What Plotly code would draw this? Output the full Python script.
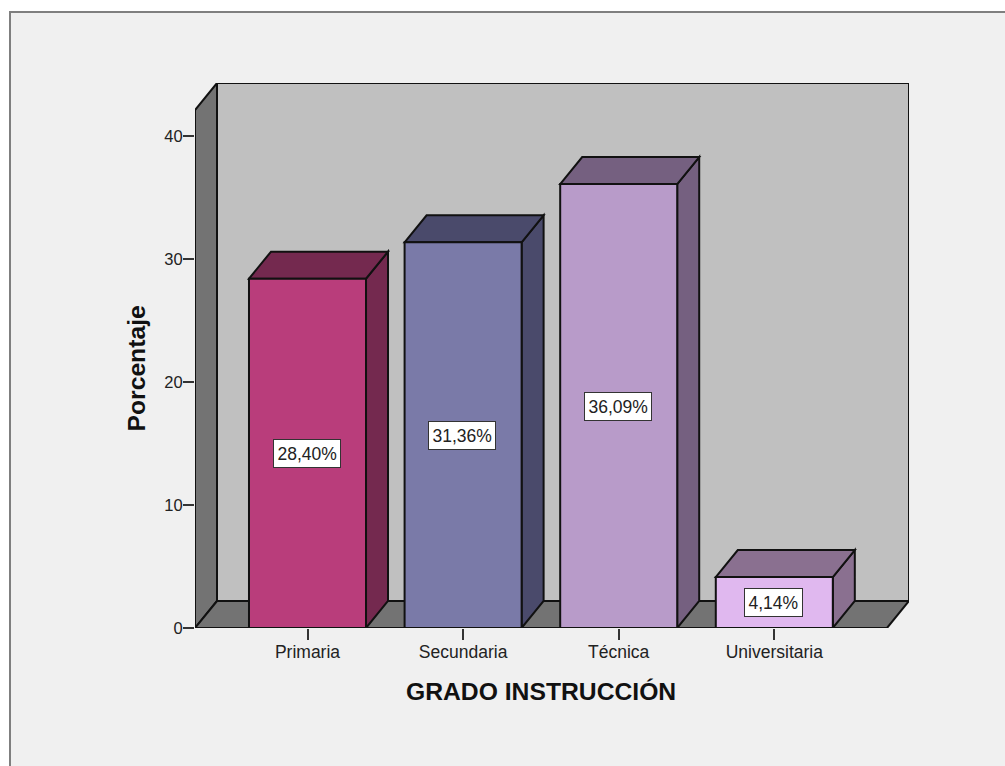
import plotly.graph_objects as go

categories = ["Primaria", "Secundaria", "Técnica", "Universitaria"]
values = [28.40, 31.36, 36.09, 4.14]
labels = ["28,40%", "31,36%", "36,09%", "4,14%"]
front_colors = ["#b93d7b", "#7a7aa8", "#b89bc9", "#e0b8ef"]
dark_colors = ["#74294f", "#4a4a6b", "#756080", "#8a7090"]
y_ticks = [0, 10, 20, 30, 40]

W, H = 1005, 766
L, R, T, B = 195, 909, 83, 628
px_per_unit_y = 12.3
px_per_cat = 155.6
x0_px = 307.5
bar_w = 0.752
DX = 22 / px_per_cat
DY = 27 / px_per_unit_y
x_min = (L - x0_px) / px_per_cat
x_max = (R - x0_px) / px_per_cat
y_max = (B - T) / px_per_unit_y
x_front_end = x_max - DX
y_front_top = y_max - DY


def poly(pts):
    return "M " + " L ".join(f"{x},{y}" for x, y in pts) + " Z"


def px_x(p):
    return (p - L) / (R - L)


def px_y(p):
    return (B - p) / (B - T)


LINE = dict(color="#111111", width=2)
shapes = [
    dict(type="rect", xref="paper", yref="paper", layer="below",
         x0=px_x(10), x1=px_x(1015), y0=px_y(12), y1=px_y(776),
         fillcolor="#f0f0f0", line=dict(color="#7f7f7f", width=2)),
    # back wall
    dict(type="path", layer="below", fillcolor="#c0c0c0", line=LINE,
         path=poly([(x_min + DX, DY), (x_max, DY), (x_max, y_max), (x_min + DX, y_max)])),
    # left wall
    dict(type="path", layer="below", fillcolor="#737373", line=LINE,
         path=poly([(x_min, 0), (x_min + DX, DY), (x_min + DX, y_max), (x_min, y_front_top)])),
    # floor
    dict(type="path", layer="below", fillcolor="#737373", line=LINE,
         path=poly([(x_min, 0), (x_min + DX, DY), (x_max, DY), (x_front_end, 0)])),
]
for i, v in enumerate(values):
    a, b = i - bar_w / 2, i + bar_w / 2
    shapes.append(dict(type="path", layer="below", fillcolor=dark_colors[i], line=LINE,
                       path=poly([(b, 0), (b + DX, DY), (b + DX, v + DY), (b, v)])))
    shapes.append(dict(type="path", layer="below", fillcolor=dark_colors[i], line=LINE,
                       path=poly([(a, v), (a + DX, v + DY), (b + DX, v + DY), (b, v)])))
# front baseline
shapes.append(dict(type="line", layer="above", x0=x_min, x1=x_front_end, y0=0, y1=0, line=LINE))

fig = go.Figure(go.Bar(
    x=list(range(len(categories))), y=values, width=bar_w,
    marker=dict(color=front_colors, line=dict(color="#111111", width=2)),
    hoverinfo="skip", showlegend=False,
))

annotations = [
    dict(x=i - 0.004, y=v / 2, text=labels[i], showarrow=False, xref="x", yref="y",
         font=dict(family="Liberation Sans", size=17.5, color="#222222"),
         bgcolor="#ffffff", bordercolor="#333333", borderwidth=1, borderpad=3.5)
    for i, v in enumerate(values)
]
annotations.append(dict(
    text="GRADO INSTRUCCIÓN", xref="paper", yref="paper", showarrow=False,
    x=px_x(540.5), y=px_y(691), xanchor="center", yanchor="middle",
    font=dict(family="Liberation Sans", size=24.7, color="#111111", weight="bold")))
annotations.append(dict(
    text="Porcentaje", xref="paper", yref="paper", showarrow=False, textangle=-90,
    x=px_x(136), y=px_y(368.5), xanchor="center", yanchor="middle",
    font=dict(family="Liberation Sans", size=24.7, color="#111111", weight="bold")))

fig.update_layout(
    width=W, height=H, autosize=False,
    margin=dict(l=L, r=W - R, t=T, b=H - B, pad=0),
    paper_bgcolor="#ffffff", plot_bgcolor="rgba(0,0,0,0)",
    shapes=shapes, annotations=annotations, showlegend=False,
    xaxis=dict(range=[x_min, x_max], tickmode="array", tickvals=list(range(len(categories))),
               ticktext=categories, ticks="outside", ticklen=11, tickwidth=2, tickcolor="#333333",
               ticklabelstandoff=-3,
               showgrid=False, zeroline=False, showline=False,
               tickfont=dict(family="Liberation Sans", size=17.5, color="#222222")),
    yaxis=dict(range=[0, y_max], tickmode="array", tickvals=y_ticks,
               ticks="outside", ticklen=11, tickwidth=2, tickcolor="#333333",
               ticklabelstandoff=-3,
               showgrid=False, zeroline=False, showline=False,
               tickfont=dict(family="Liberation Sans", size=16.5, color="#222222")),
)

fig.write_html("out.html", config=dict(displayModeBar=False),
               post_script="document.body.style.margin='0';")
